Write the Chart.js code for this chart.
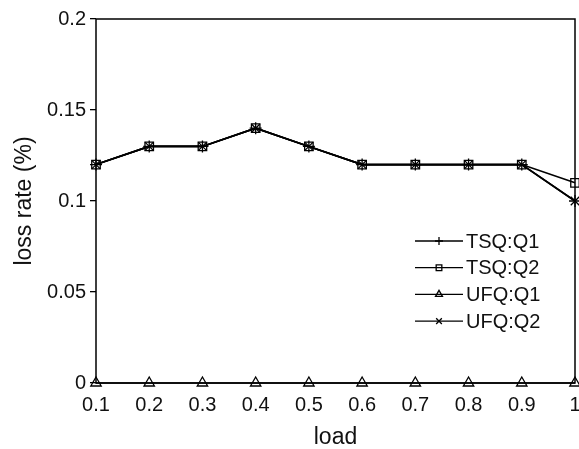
<!DOCTYPE html>
<html>
<head>
<meta charset="utf-8">
<script src="https://cdn.jsdelivr.net/npm/chart.js@4"></script>
<style>
  html, body { margin: 0; padding: 0; background: #fff; }
</style>
</head>
<body>
<canvas id="lossChart" width="579" height="449"></canvas>
<script>
// data
const loads = [0.1, 0.2, 0.3, 0.4, 0.5, 0.6, 0.7, 0.8, 0.9, 1];
const xTickLabels = ['0.1', '0.2', '0.3', '0.4', '0.5', '0.6', '0.7', '0.8', '0.9', '1'];
const yTickLabels = ['0', '0.05', '0.1', '0.15', '0.2'];
const seriesNames = ['TSQ:Q1', 'TSQ:Q2', 'UFQ:Q1', 'UFQ:Q2'];
const tsqQ1 = [0.12, 0.13, 0.13, 0.14, 0.13, 0.12, 0.12, 0.12, 0.12, 0.10];
const tsqQ2 = [0.12, 0.13, 0.13, 0.14, 0.13, 0.12, 0.12, 0.12, 0.12, 0.11];
const ufqQ1 = [0, 0, 0, 0, 0, 0, 0, 0, 0, 0];
const ufqQ2 = [0.12, 0.13, 0.13, 0.14, 0.13, 0.12, 0.12, 0.12, 0.12, 0.10];
const markers = ['cross', 'rect', 'triangle', 'crossRot'];

const FONT = 'Liberation Sans, Arial, Helvetica, sans-serif';

function makeSet(i, values) {
    return {
        label: seriesNames[i],
        data: loads.map((x, k) => ({x: x, y: values[k]})),
        borderColor: '#000',
        backgroundColor: 'rgba(0,0,0,0)',
        borderWidth: 1.6,
        pointStyle: markers[i],
        pointRadius: 6,
        pointBorderWidth: 1.3,
        pointBorderColor: '#000',
        pointBackgroundColor: 'rgba(0,0,0,0)',
        clip: false,
        tension: 0
    };
}

// box around the plot
const frame = {
    id: 'frame',
    afterDatasetsDraw(chart) {
        const a = chart.chartArea, ctx = chart.ctx;
        ctx.save();
        ctx.strokeStyle = '#000';
        ctx.lineWidth = 1.5;
        ctx.strokeRect(a.left, a.top, a.right - a.left, a.bottom - a.top);
        ctx.restore();
    }
};

// legend sitting inside the plot, lines with markers
const insideLegend = {
    id: 'insideLegend',
    afterDraw(chart) {
        const ctx = chart.ctx;
        const x0 = 415, x1 = 463, y0 = 241, gap = 26.7;
        ctx.save();
        chart.data.datasets.forEach((ds, i) => {
            const y = y0 + i * gap;
            ctx.strokeStyle = '#000';
            ctx.lineWidth = 1.3;
            ctx.beginPath();
            ctx.moveTo(x0, y);
            ctx.lineTo(x1, y);
            ctx.stroke();
            ctx.fillStyle = 'rgba(0,0,0,0)';
            Chart.helpers.drawPoint(ctx, {pointStyle: ds.pointStyle, rotation: 0, borderWidth: 1.2, radius: 4}, (x0 + x1) / 2, y);
            ctx.fillStyle = '#111';
            ctx.font = '20px ' + FONT;
            ctx.textAlign = 'left';
            ctx.textBaseline = 'middle';
            ctx.fillText(ds.label, x1 + 3, y + 1);
        });
        ctx.restore();
    }
};

new Chart(document.getElementById('lossChart'), {
    type: 'line',
    data: {
        datasets: [makeSet(0, tsqQ1), makeSet(1, tsqQ2), makeSet(2, ufqQ1), makeSet(3, ufqQ2)]
    },
    options: {
        responsive: false,
        animation: false,
        devicePixelRatio: 1,
        layout: {autoPadding: false, padding: {top: 19, right: 4, left: 0, bottom: 0}},
        plugins: {legend: {display: false}, tooltip: {enabled: false}},
        scales: {
            x: {
                type: 'linear',
                min: 0.1,
                max: 1,
                afterFit: (s) => { s.height = 66; s.paddingLeft = 0; s.paddingRight = 0; },
                afterBuildTicks: (s) => { s.ticks = loads.map(v => ({value: v})); },
                ticks: {
                    color: '#111',
                    autoSkip: false,
                    font: {size: 20, family: FONT},
                    padding: 10,
                    maxRotation: 0,
                    callback: (v, i) => xTickLabels[i]
                },
                grid: {display: false, drawTicks: false},
                border: {display: false},
                title: {display: true, text: 'load', color: '#111', font: {size: 23, family: FONT, lineHeight: 1}, padding: {top: 0, bottom: 0}}
            },
            y: {
                min: 0,
                max: 0.2,
                afterFit: (s) => { s.width = 96; s.paddingTop = 0; s.paddingBottom = 0; },
                afterBuildTicks: (s) => { s.ticks = [0, 0.05, 0.1, 0.15, 0.2].map(v => ({value: v})); },
                ticks: {
                    color: '#111',
                    autoSkip: false,
                    font: {size: 20, family: FONT},
                    padding: 4,
                    callback: (v, i) => yTickLabels[i]
                },
                grid: {display: true, drawOnChartArea: false, drawTicks: true, tickLength: 6, color: '#000', lineWidth: 1.3},
                border: {display: false},
                title: {display: true, text: 'loss rate (%)', color: '#111', font: {size: 23, family: FONT}, padding: {top: 11, bottom: 0}}
            }
        }
    },
    plugins: [frame, insideLegend]
});
</script>
</body>
</html>
